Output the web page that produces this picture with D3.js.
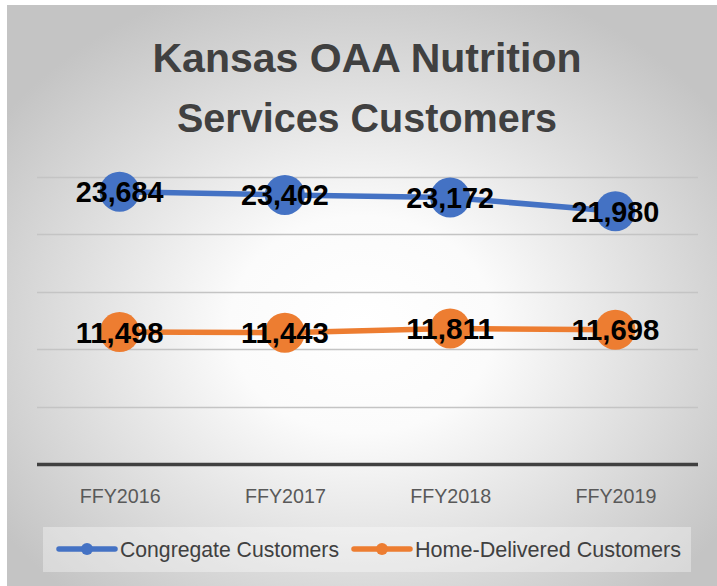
<!DOCTYPE html>
<html><head><meta charset="utf-8">
<script src="https://cdn.jsdelivr.net/npm/d3@7"></script>
<style>html,body{margin:0;padding:0;background:#fff;}svg{display:block;}</style>
</head><body>
<svg id="chart" width="717" height="586"></svg>
<script>
const categories = ["FFY2016", "FFY2017", "FFY2018", "FFY2019"];
const congregate = [23684, 23402, 23172, 21980];
const homeDelivered = [11498, 11443, 11811, 11698];
const seriesNames = ["Congregate Customers", "Home-Delivered Customers"];
const seriesColors = ["#4472C4", "#ED7D31"];
const yTicks = [0, 5000, 10000, 15000, 20000, 25000];
const titleLines = ["Kansas OAA Nutrition", "Services Customers"];

const svg = d3.select("#chart");
const W = 717, H = 586;
const box = {x: 7, y: 5, w: W - 7, h: H - 5};

const defs = svg.append("defs");
const grad = defs.append("radialGradient").attr("id", "bg")
  .attr("cx", "50%").attr("cy", "55%").attr("r", "62%").attr("fx", "50%").attr("fy", "55%");
grad.append("stop").attr("offset", "0%").attr("stop-color", "#ffffff");
grad.append("stop").attr("offset", "30%").attr("stop-color", "#fbfbfb");
grad.append("stop").attr("offset", "100%").attr("stop-color", "#c4c4c4");

svg.append("rect").attr("x", box.x).attr("y", box.y).attr("width", box.w).attr("height", box.h)
  .attr("fill", "url(#bg)");

// Title
const titleG = svg.append("g").attr("font-family", "'Liberation Sans', Arial, sans-serif")
  .attr("font-weight", "bold").attr("font-size", 41).attr("fill", "#404040").attr("text-anchor", "middle");
const titleLens = [429, 380];
const titleBase = [72, 132];
titleLines.forEach((t, i) => {
  titleG.append("text").attr("x", 367).attr("y", titleBase[i]).text(t)
    .attr("textLength", titleLens[i]).attr("lengthAdjust", "spacingAndGlyphs");
});

// Scales
const x = d3.scalePoint().domain(categories).range([37, 698]).padding(0.5);
const y = d3.scaleLinear().domain([0, 25000]).range([464.5, 176.5]);

// gridlines
svg.append("g").selectAll("line").data(yTicks.filter(d => d > 0)).join("line")
  .attr("x1", 37).attr("x2", 698).attr("y1", d => Math.round(y(d)) + 0.5).attr("y2", d => Math.round(y(d)) + 0.5)
  .attr("stroke", "#c4c4c4").attr("stroke-width", 1.3);

// baseline axis
svg.append("line").attr("x1", 37).attr("x2", 698).attr("y1", y(0)).attr("y2", y(0))
  .attr("stroke", "#404040").attr("stroke-width", 3.5);

// x axis labels
const xAxis = d3.axisBottom(x).tickSize(0).tickPadding(0);
const xg = svg.append("g").attr("transform", `translate(0,${y(0)})`).call(xAxis);
xg.select(".domain").remove();
xg.selectAll("text").attr("font-family", "'Liberation Sans', Arial, sans-serif")
  .attr("font-size", 21).attr("fill", "#595959").attr("dy", 0).attr("y", 38)
  .attr("textLength", 81).attr("lengthAdjust", "spacingAndGlyphs");

// series
const series = [congregate, homeDelivered];
const line = d3.line().x((d, i) => x(categories[i])).y(d => y(d));
series.forEach((vals, s) => {
  svg.append("path").datum(vals).attr("d", line).attr("fill", "none")
    .attr("stroke", seriesColors[s]).attr("stroke-width", 5.5).attr("stroke-linejoin", "round");
  svg.append("g").selectAll("circle").data(vals).join("circle")
    .attr("cx", (d, i) => x(categories[i])).attr("cy", d => y(d)).attr("r", 20)
    .attr("fill", seriesColors[s]);
});
const fmt = d3.format(",");
series.forEach((vals, s) => {
  svg.append("g").selectAll("text").data(vals).join("text")
    .attr("x", (d, i) => x(categories[i])).attr("y", d => y(d) + 10.5)
    .attr("text-anchor", "middle").attr("font-family", "'Liberation Sans', Arial, sans-serif")
    .attr("font-weight", "bold").attr("font-size", 29.5).attr("fill", "#000")
    .attr("textLength", 88).attr("lengthAdjust", "spacingAndGlyphs")
    .text(d => fmt(d));
});

// legend
const lg = svg.append("g");
lg.append("rect").attr("x", 43).attr("y", 527).attr("width", 648).attr("height", 45)
  .attr("fill", "#ffffff").attr("fill-opacity", 0.35);
const legendTextLens = [219, 266];
let cx = 59;
seriesNames.forEach((name, s) => {
  const g = lg.append("g");
  g.append("line").attr("x1", cx).attr("x2", cx + 56).attr("y1", 549).attr("y2", 549)
    .attr("stroke", seriesColors[s]).attr("stroke-width", 5.5).attr("stroke-linecap", "round");
  g.append("circle").attr("cx", cx + 28).attr("cy", 549).attr("r", 6).attr("fill", seriesColors[s]);
  g.append("text").attr("x", cx + 61).attr("y", 557)
    .attr("font-family", "'Liberation Sans', Arial, sans-serif").attr("font-size", 22)
    .attr("fill", "#404040").attr("textLength", legendTextLens[s]).attr("lengthAdjust", "spacingAndGlyphs")
    .text(name);
  cx += 61 + legendTextLens[s] + 15;
});
</script>
</body></html>
